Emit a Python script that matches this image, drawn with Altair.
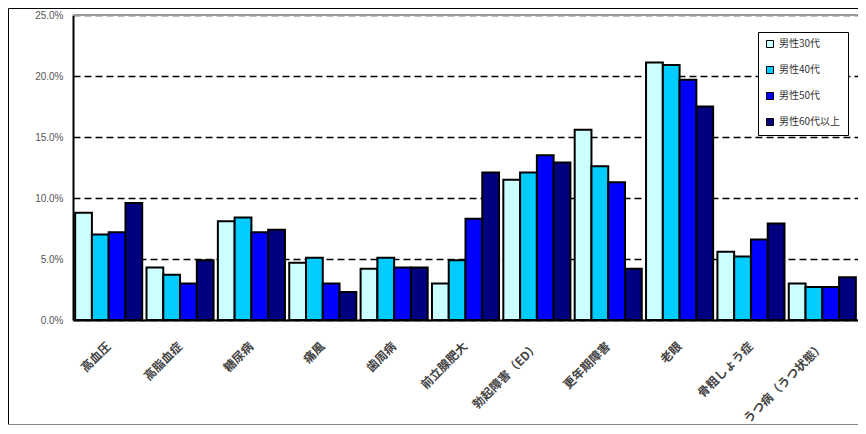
import altair as alt
import pandas as pd

categories = ["高血圧", "高脂血症", "糖尿病", "痛風", "歯周病", "前立腺肥大",
              "勃起障害（ED）", "更年期障害", "老眼", "骨粗しょう症", "うつ病（うつ状態）"]
series = ["男性30代", "男性40代", "男性50代", "男性60代以上"]
colors = ["#CCFFFF", "#00CCFF", "#0000FF", "#000080"]

s30 = [8.8, 4.3, 8.1, 4.7, 4.2, 3.0, 11.5, 15.6, 21.1, 5.6, 3.0]
s40 = [7.0, 3.7, 8.4, 5.1, 5.1, 4.9, 12.1, 12.6, 20.9, 5.2, 2.7]
s50 = [7.2, 3.0, 7.2, 3.0, 4.3, 8.3, 13.5, 11.3, 19.7, 6.6, 2.7]
s60 = [9.6, 4.9, 7.4, 2.3, 4.3, 12.1, 12.9, 4.2, 17.5, 7.9, 3.5]

y_ticks = [0, 0.05, 0.10, 0.15, 0.20, 0.25]

rows = []
for s, vals in zip(series, [s30, s40, s50, s60]):
    for c, v in zip(categories, vals):
        rows.append({"cat": c, "series": s, "pct": v})
df = pd.DataFrame(rows)

W, H = 785, 305

bars = alt.Chart(df).transform_calculate(
    val="datum.pct / 100"
).mark_bar(stroke="black", strokeWidth=2).encode(
    x=alt.X("cat:N", sort=categories, title=None,
            scale=alt.Scale(paddingInner=0.06, paddingOuter=0.03),
            axis=alt.Axis(labelAngle=-45, labelAlign="right", labelBaseline="middle",
                          labelPadding=24, labelFontSize=12, labelFont="Noto Sans CJK JP",
                          labelFontWeight="bold",
                          labelColor="#444444", ticks=False, domainColor="black",
                          domainWidth=2, labelLimit=200)),
    xOffset=alt.XOffset("series:N", sort=series,
                        scale=alt.Scale(paddingInner=0, paddingOuter=0)),
    y=alt.Y("val:Q", title=None,
            scale=alt.Scale(domain=[0, 0.25], nice=False),
            axis=alt.Axis(values=y_ticks, format=".1%", ticks=False, domainColor="black",
                          domainWidth=2, labelFontSize=10, labelFont="Liberation Sans",
                          labelColor="#555555", labelPadding=10,
                          grid=True, gridDash=[7, 4], gridColor="black", gridWidth=1.5)),
    color=alt.Color("series:N", sort=series,
                    scale=alt.Scale(domain=series, range=colors),
                    legend=alt.Legend(title=None, orient="none", legendX=685, legendY=17,
                                      padding=7, fillColor="white", strokeColor="black",
                                      symbolType="square", symbolSize=49,
                                      symbolStrokeColor="black", symbolStrokeWidth=1,
                                      labelFontSize=10, labelFont="Noto Sans CJK JP",
                                      labelColor="#333333", rowPadding=14, labelOffset=4)),
)

one = pd.DataFrame({"a": [0]})

top_rule = alt.Chart(one).mark_rule(color="#999999", strokeWidth=2).encode(
    x=alt.value(0), x2=alt.value(W), y=alt.value(0))

frame_left = alt.Chart(one).mark_rule(color="black", strokeWidth=1).encode(
    x=alt.value(-64.5), y=alt.value(-6.5), y2=alt.value(409.5))
frame_top = alt.Chart(one).mark_rule(color="black", strokeWidth=1).encode(
    x=alt.value(-64.5), x2=alt.value(W), y=alt.value(-6.5))
frame_bottom = alt.Chart(one).mark_rule(color="#888888", strokeWidth=1).encode(
    x=alt.value(-64.5), x2=alt.value(W), y=alt.value(409.5))

chart = alt.layer(bars, top_rule, frame_left, frame_top, frame_bottom).properties(
    width=W, height=H,
    autosize=alt.AutoSizeParams(type="none"),
    padding={"left": 65, "top": 7, "right": 0, "bottom": 106},
).configure_view(stroke=None).configure(background="white")

chart.save("out.html", embed_options={"renderer": "svg", "actions": False})
